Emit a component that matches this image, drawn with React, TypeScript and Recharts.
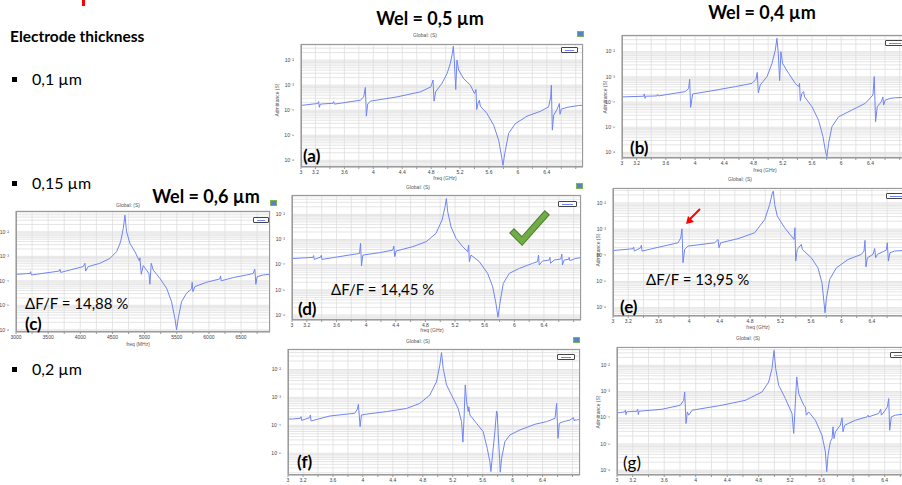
import React from 'react'
import { LineChart, Line, XAxis, YAxis, CartesianGrid } from 'recharts'

// admittance sweeps, one pair of arrays per plot
const A_FREQ = [3.0, 3.23, 3.244, 3.254, 3.267, 3.443, 3.452, 3.461, 3.82, 3.867, 3.89, 3.904, 3.922, 3.959, 4.328, 4.65, 4.798, 4.826, 4.84, 4.862, 4.95, 5.02, 5.065, 5.093, 5.107, 5.12, 5.14, 5.157, 5.18, 5.25, 5.342, 5.4, 5.42, 5.43, 5.448, 5.467, 5.48, 5.572, 5.665, 5.734, 5.775, 5.794, 5.817, 5.872, 5.964, 6.126, 6.31, 6.425, 6.453, 6.462, 6.476, 6.494, 6.54, 6.573, 6.582, 6.6, 6.68, 6.84, 6.9]
const A_ADM = [1.55e-4, 1.85e-4, 2.2e-4, 1.3e-4, 1.75e-4, 1.9e-4, 2.2e-4, 1.75e-4, 2.5e-4, 3.4e-4, 8.1e-4, 5.8e-5, 1.75e-4, 2.3e-4, 3.4e-4, 5.4e-4, 8.6e-4, 1.6e-3, 2.3e-4, 5.4e-4, 1.2e-3, 2.9e-3, 7.4e-3, 1.85e-2, 3.6e-2, 1e-2, 6.7e-4, 1e-2, 4e-3, 1.8e-3, 1e-3, 4.6e-4, 6.7e-4, 1.06e-4, 1.85e-4, 2.5e-4, 1.45e-4, 7.4e-5, 2.5e-5, 6.3e-6, 1.36e-6, 6.3e-7, 1.8e-6, 1.2e-5, 2.9e-5, 5.8e-5, 9e-5, 1.36e-4, 3.4e-4, 1e-3, 1.6e-5, 6.3e-5, 1.06e-4, 1.85e-4, 6.9e-5, 1.1e-4, 1.3e-4, 1.55e-4, 1.57e-4]

const B_FREQ = [3.0, 3.296, 3.306, 3.315, 3.325, 3.479, 3.488, 3.497, 3.866, 3.912, 3.926, 3.939, 3.967, 4.231, 4.55, 4.778, 4.833, 4.851, 4.865, 4.892, 4.984, 5.052, 5.098, 5.12, 5.139, 5.157, 5.175, 5.198, 5.28, 5.371, 5.417, 5.43, 5.44, 5.462, 5.485, 5.499, 5.6, 5.69, 5.75, 5.79, 5.804, 5.827, 5.873, 5.964, 6.146, 6.329, 6.434, 6.452, 6.47, 6.493, 6.548, 6.57, 6.58, 6.602, 6.67, 6.74, 6.9]
const B_ADM = [1.6e-4, 1.7e-4, 2.1e-4, 1.4e-4, 1.7e-4, 1.75e-4, 2.0e-4, 1.75e-4, 2.6e-4, 3.5e-4, 8e-4, 6.1e-5, 2.1e-4, 2.8e-4, 4.1e-4, 5.5e-4, 8e-4, 1.5e-3, 2.3e-4, 4.8e-4, 1.02e-3, 3.4e-3, 1.16e-2, 3.4e-2, 8.6e-3, 7.1e-4, 1e-2, 3.4e-3, 1.38e-3, 5.5e-4, 4.1e-4, 5.5e-4, 1.13e-4, 2.2e-4, 2.6e-4, 1.6e-4, 6.5e-5, 1.9e-5, 4.2e-6, 9.1e-7, 6.8e-7, 2.3e-6, 1.05e-5, 2.6e-5, 4.8e-5, 8.9e-5, 1.9e-4, 1.02e-3, 1.65e-5, 6.5e-5, 1.02e-4, 1.6e-4, 7.6e-5, 1.2e-4, 1.4e-4, 1.48e-4, 1.55e-4]

const C_FREQ = [3000, 3218, 3228, 3239, 3673, 3684, 3694, 4046, 4072, 4083, 4124, 4305, 4461, 4564, 4627, 4668, 4694, 4720, 4772, 4849, 4917, 4927, 4948, 4979, 5067, 5082, 5103, 5134, 5238, 5341, 5419, 5471, 5497, 5523, 5574, 5652, 5730, 5740, 5751, 5782, 5963, 6170, 6181, 6191, 6377, 6585, 6688, 6714, 6730, 6750, 6844, 6937]
const C_ADM = [1.84e-4, 2.0e-4, 2.36e-4, 1.73e-4, 2.5e-4, 3.0e-4, 2.2e-4, 3.8e-4, 5.2e-4, 2.5e-4, 3.8e-4, 5.2e-4, 8.2e-4, 1.55e-3, 3.9e-3, 1.37e-2, 4.8e-2, 1e-2, 3.35e-3, 1.55e-3, 6.6e-4, 8.7e-4, 1.84e-4, 4.2e-4, 2e-4, 7.2e-5, 5.2e-4, 2.75e-4, 1.26e-4, 5e-5, 1.4e-5, 2.9e-6, 1e-6, 2.9e-6, 1.4e-5, 3.1e-5, 4.7e-5, 8.7e-5, 3.6e-5, 5.8e-5, 8.7e-5, 1.19e-4, 1.58e-4, 1e-4, 1.35e-4, 1.73e-4, 2e-4, 3e-4, 7.2e-5, 1.48e-4, 1.73e-4, 1.84e-4]

const D_FREQ = [3.0, 3.283, 3.292, 3.301, 3.386, 3.395, 3.404, 3.911, 3.925, 3.938, 3.956, 4.181, 4.36, 4.374, 4.387, 4.405, 4.63, 4.81, 4.944, 5.025, 5.065, 5.083, 5.101, 5.146, 5.214, 5.303, 5.371, 5.384, 5.393, 5.416, 5.528, 5.64, 5.708, 5.752, 5.779, 5.806, 5.851, 5.932, 6.067, 6.246, 6.314, 6.327, 6.336, 6.381, 6.471, 6.48, 6.489, 6.538, 6.628, 6.641, 6.65, 6.673, 6.731, 6.74, 6.749, 6.83, 6.9]
const D_ADM = [1.75e-4, 1.95e-4, 2.3e-4, 1.62e-4, 2.0e-4, 2.35e-4, 1.62e-4, 2.8e-4, 7.1e-4, 8.9e-5, 2.4e-4, 3.0e-4, 3.8e-4, 5.5e-4, 2.1e-4, 3.5e-4, 5.2e-4, 8.2e-4, 1.76e-3, 6e-3, 2e-2, 4.3e-2, 1.28e-2, 3.2e-3, 1.11e-3, 5.2e-4, 3.3e-4, 6e-4, 1.32e-4, 2.4e-4, 1.32e-4, 4.5e-5, 1.34e-5, 2.9e-6, 8.1e-7, 2.9e-6, 1.8e-5, 4.5e-5, 7.1e-5, 1.13e-4, 1.32e-4, 2.4e-4, 9.7e-5, 1.4e-4, 1.53e-4, 1.95e-4, 1.13e-4, 1.53e-4, 1.68e-4, 2.65e-4, 9.7e-5, 1.53e-4, 1.62e-4, 1.95e-4, 1.45e-4, 1.78e-4, 1.9e-4]

const E_FREQ = [3.0, 3.263, 3.271, 3.28, 3.363, 3.372, 3.381, 3.854, 3.889, 3.906, 3.919, 3.941, 3.985, 4.335, 4.379, 4.392, 4.414, 4.641, 4.86, 4.992, 5.057, 5.092, 5.105, 5.123, 5.158, 5.254, 5.342, 5.377, 5.39, 5.399, 5.42, 5.473, 5.486, 5.604, 5.692, 5.744, 5.771, 5.784, 5.801, 5.845, 5.933, 6.086, 6.261, 6.296, 6.309, 6.322, 6.34, 6.414, 6.436, 6.449, 6.471, 6.589, 6.602, 6.616, 6.637, 6.699, 6.9]
const E_ADM = [1.52e-4, 1.77e-4, 2.04e-4, 1.45e-4, 1.93e-4, 2.4e-4, 1.45e-4, 3e-4, 4.6e-4, 1.02e-3, 5.2e-5, 1.67e-4, 2.24e-4, 3e-4, 4e-4, 1.93e-4, 3e-4, 4.3e-4, 7.2e-4, 2.3e-3, 8.6e-3, 2.4e-2, 2.8e-2, 8.6e-3, 3.1e-3, 1.12e-3, 5.4e-4, 4e-4, 1.12e-3, 6e-5, 1.67e-4, 2.6e-4, 1.67e-4, 8e-5, 3.3e-5, 8.9e-6, 1.55e-6, 6.4e-7, 2.1e-6, 1.2e-5, 3.3e-5, 6.9e-5, 1.08e-4, 1.45e-4, 3.7e-4, 3.6e-5, 8e-5, 1.08e-4, 1.82e-4, 8e-5, 1.08e-4, 1.58e-4, 3e-4, 6e-5, 1.25e-4, 1.45e-4, 1.58e-4]

const F_FREQ = [3.0, 3.058, 3.165, 3.174, 3.183, 3.29, 3.299, 3.308, 3.557, 3.891, 3.927, 3.94, 3.963, 3.981, 4.047, 4.315, 4.582, 4.76, 4.894, 4.983, 5.028, 5.05, 5.073, 5.117, 5.206, 5.273, 5.318, 5.336, 5.353, 5.367, 5.385, 5.407, 5.416, 5.429, 5.518, 5.607, 5.661, 5.696, 5.71, 5.732, 5.763, 5.786, 5.795, 5.808, 5.826, 5.835, 5.853, 5.897, 5.964, 6.098, 6.298, 6.454, 6.566, 6.588, 6.606, 6.624, 6.677, 6.766, 6.811, 6.824, 6.833, 6.855, 6.9]
const F_ADM = [1.68e-4, 1.68e-4, 1.78e-4, 2.04e-4, 1.5e-4, 1.88e-4, 2.34e-4, 1.43e-4, 2.15e-4, 2.7e-4, 3.8e-4, 5.6e-4, 9e-5, 2.34e-4, 2.5e-4, 3.1e-4, 4.0e-4, 6.1e-4, 1.21e-3, 3.6e-3, 1.43e-2, 4.0e-2, 1.09e-2, 2.8e-3, 9.2e-4, 4.0e-4, 1.35e-4, 2.5e-5, 2.34e-4, 2.8e-3, 7e-4, 3.1e-4, 4.6e-4, 2.34e-4, 1.18e-4, 5.9e-5, 1.5e-5, 5e-6, 2.2e-6, 8.7e-6, 5.9e-5, 3.25e-4, 2.7e-4, 4.5e-5, 6.6e-6, 2.1e-6, 6.6e-6, 2.6e-5, 4.5e-5, 6.8e-5, 1.09e-4, 1.35e-4, 1.78e-4, 6.1e-4, 3.4e-5, 1.18e-4, 1.35e-4, 1.55e-4, 1.88e-4, 1.43e-4, 1.55e-4, 1.55e-4, 1.62e-4]

const G_FREQ = [3.0, 3.042, 3.097, 3.106, 3.114, 3.123, 3.254, 3.263, 3.271, 3.28, 3.572, 3.805, 3.847, 3.86, 3.877, 3.894, 3.911, 3.953, 4.334, 4.63, 4.842, 4.927, 4.969, 4.995, 5.016, 5.054, 5.139, 5.223, 5.245, 5.266, 5.283, 5.308, 5.372, 5.393, 5.405, 5.435, 5.52, 5.604, 5.647, 5.664, 5.681, 5.71, 5.732, 5.744, 5.757, 5.774, 5.837, 5.859, 5.871, 5.893, 6.028, 6.176, 6.189, 6.197, 6.324, 6.35, 6.358, 6.392, 6.435, 6.452, 6.464, 6.485, 6.536, 6.7]
const G_ADM = [1.53e-4, 1.57e-4, 1.67e-4, 1.93e-4, 1.32e-4, 1.67e-4, 1.77e-4, 2.1e-4, 1.32e-4, 1.77e-4, 2.1e-4, 3e-4, 4.6e-4, 9.6e-4, 6e-5, 1.67e-4, 1.25e-4, 1.93e-4, 3e-4, 4.6e-4, 9.6e-4, 2.3e-3, 7.5e-3, 3.7e-2, 7.5e-3, 1.73e-3, 5.4e-4, 1.45e-4, 2.5e-5, 4e-4, 3.6e-3, 8.3e-4, 3e-4, 2.6e-4, 1.25e-4, 1.67e-4, 8e-5, 2.15e-5, 5e-6, 8.7e-7, 3.7e-6, 1.2e-5, 1.6e-5, 4.5e-5, 1.6e-5, 2.9e-5, 5.2e-5, 9.9e-5, 2.9e-5, 5.2e-5, 8e-5, 1.08e-4, 1.25e-4, 1.08e-4, 1.45e-4, 2.1e-4, 1.25e-4, 1.67e-4, 2.6e-4, 5.4e-4, 3.3e-5, 1.08e-4, 1.25e-4, 1.45e-4]

// axis ticks
const GHZ_TICKS = [3, 3.2, 3.4, 3.6, 3.8, 4, 4.2, 4.4, 4.6, 4.8, 5, 5.2, 5.4, 5.6, 5.8, 6, 6.2, 6.4, 6.6, 6.8]
const GHZ_LABELS = ['3', '3.2', '', '3.6', '', '4', '', '4.4', '', '4.8', '', '5.2', '', '5.6', '', '6', '', '6.4', '', '']
const MHZ_TICKS = [3000, 3250, 3500, 3750, 4000, 4250, 4500, 4750, 5000, 5250, 5500, 5750, 6000, 6250, 6500, 6750]
const MHZ_LABELS = ['3000', '', '3500', '', '4000', '', '4500', '', '5000', '', '5500', '', '6000', '', '6500', '']
const DECADES = [1e-7, 1e-6, 1e-5, 1e-4, 1e-3, 1e-2, 1e-1]
const MINOR = [1, 2, 3, 4, 5, 6, 7, 8, 9]

const LINE = '#7085f3'
const SLIDE_FONT = 'Lato, "Open Sans", sans-serif'
const PLOT_FONT = '"Liberation Sans", Arial, sans-serif'

const SUP: Record<string, string> = { '-': '⁻', '0': '⁰', '1': '¹', '2': '²', '3': '³', '4': '⁴', '5': '⁵', '6': '⁶', '7': '⁷', '8': '⁸', '9': '⁹' }
const powLabel = (v: number) => {
  const e = Math.log10(v)
  const r = Math.round(e)
  if (Math.abs(e - r) > 1e-6) return ''
  return '10' + String(r).split('').map((c) => SUP[c]).join('')
}

type PanelProps = {
  x: number
  y: number
  w: number
  h: number
  freq: number[]
  adm: number[]
  xDomain: [number, number]
  xTicks: number[]
  xLabels: string[]
  yDomain: [number, number]
}

const ML = 22
const MT = 2
const MR = 2
const MB = 12

const Panel = ({ x, y, w, h, freq, adm, xDomain, xTicks, xLabels, yDomain }: PanelProps) => {
  const data = freq.map((f, i) => ({ f, y: adm[i] }))
  const yTicks = DECADES.flatMap((d) => MINOR.map((m) => m * d)).filter((v) => v >= yDomain[0] && v <= yDomain[1])
  return (
    <div style={{ position: 'absolute', left: x - ML, top: y - MT }}>
      <LineChart width={w + ML + MR} height={h + MT + MB} data={data} margin={{ top: MT, right: MR, bottom: 0, left: 0 }}>
        <CartesianGrid stroke="#dedede" strokeWidth={0.8} />
        <XAxis
          type="number"
          dataKey="f"
          domain={xDomain}
          ticks={xTicks}
          interval={0}
          allowDataOverflow
          height={MB}
          tickSize={2}
          tickMargin={1}
          axisLine={{ stroke: '#999' }}
          tickLine={{ stroke: '#999' }}
          tick={{ fontSize: 5, fill: '#444', fontFamily: PLOT_FONT }}
          tickFormatter={(v: number) => {
            const i = xTicks.indexOf(v)
            return i >= 0 ? xLabels[i] : ''
          }}
        />
        <YAxis
          type="number"
          scale="log"
          domain={yDomain}
          ticks={yTicks}
          interval={0}
          allowDataOverflow
          width={ML}
          tickLine={false}
          tickMargin={1}
          axisLine={{ stroke: '#999' }}
          tick={{ fontSize: 5, fill: '#444', fontFamily: PLOT_FONT }}
          tickFormatter={powLabel}
        />
        <Line type="linear" dataKey="y" stroke={LINE} strokeWidth={1} dot={false} isAnimationActive={false} />
      </LineChart>
      <div style={{ position: 'absolute', left: ML, top: MT, width: w, height: h, border: '1px solid #9a9a9a', boxSizing: 'border-box', pointerEvents: 'none' }} />
    </div>
  )
}

type LabelProps = {
  x: number
  y: number
  size: number
  bold?: boolean
  center?: boolean
  color?: string
  font?: string
  rotate?: boolean
  children: React.ReactNode
}

const Label = ({ x, y, size, bold, center, color = '#000', font = SLIDE_FONT, rotate, children }: LabelProps) => (
  <div
    style={{
      position: 'absolute',
      left: x,
      top: y,
      transform: rotate ? 'translate(-50%, -50%) rotate(-90deg)' : center ? 'translate(-50%, -50%)' : 'translate(0, -50%)',
      fontFamily: font,
      fontSize: size,
      fontWeight: bold ? 700 : 400,
      color,
      lineHeight: 1,
      whiteSpace: 'nowrap',
    }}
  >
    {children}
  </div>
)

const LegendBox = ({ x, y, w, h }: { x: number; y: number; w: number; h: number }) => (
  <div style={{ position: 'absolute', left: x, top: y, width: w, height: h, border: '1px solid #444', borderRadius: 1, background: '#fff', boxSizing: 'border-box' }}>
    <div style={{ position: 'absolute', left: 3, right: 3, top: '50%', height: 1, background: LINE }} />
  </div>
)

const Icon = ({ x, y }: { x: number; y: number }) => (
  <div style={{ position: 'absolute', left: x, top: y, width: 5, height: 4, background: '#4f86c6', border: '0.5px solid #7fb35a' }} />
)

const Bullet = ({ y, text }: { y: number; text: string }) => (
  <>
    <div style={{ position: 'absolute', left: 12, top: y - 2.5, width: 4.5, height: 5, background: '#000' }} />
    <Label x={32} y={y} size={16}>{text}</Label>
  </>
)

const plotTitle = (x: number, y: number) => (
  <Label x={x} y={y} size={5} center color="#555" font={PLOT_FONT}>Global: (S)</Label>
)

const App = () => (
  <div style={{ position: 'fixed', left: 0, top: 0, width: 902, height: 485, overflow: 'hidden', background: '#fff' }}>
    <Panel x={301} y={44} w={282} h={123} freq={A_FREQ} adm={A_ADM} xDomain={[3, 6.9]} xTicks={GHZ_TICKS} xLabels={GHZ_LABELS} yDomain={[5.4e-7, 4.4e-2]} />
    <Panel x={622} y={35} w={285} h={123} freq={B_FREQ} adm={B_ADM} xDomain={[3, 6.9]} xTicks={GHZ_TICKS} xLabels={GHZ_LABELS} yDomain={[6.0e-7, 4.6e-2]} />
    <Panel x={16} y={211} w={254} h={121} freq={C_FREQ} adm={C_ADM} xDomain={[3000, 6950]} xTicks={MHZ_TICKS} xLabels={MHZ_LABELS} yDomain={[8.1e-7, 7.1e-2]} />
    <Panel x={292} y={195} w={289} h={125} freq={D_FREQ} adm={D_ADM} xDomain={[3, 6.9]} xTicks={GHZ_TICKS} xLabels={GHZ_LABELS} yDomain={[6.3e-7, 5.9e-2]} />
    <Panel x={613} y={188} w={297} h={128} freq={E_FREQ} adm={E_ADM} xDomain={[3, 6.9]} xTicks={GHZ_TICKS} xLabels={GHZ_LABELS} yDomain={[4.8e-7, 3.7e-2]} />
    <Panel x={288} y={349} w={292} h={126} freq={F_FREQ} adm={F_ADM} xDomain={[3, 6.9]} xTicks={GHZ_TICKS} xLabels={GHZ_LABELS} yDomain={[1.66e-6, 5.4e-2]} />
    <Panel x={617} y={347} w={307} h={128} freq={G_FREQ} adm={G_ADM} xDomain={[3, 6.9]} xTicks={GHZ_TICKS} xLabels={GHZ_LABELS} yDomain={[6.5e-7, 5e-2]} />

    {plotTitle(425, 35)}
    {plotTitle(128, 205)}
    {plotTitle(418, 187)}
    {plotTitle(740, 179)}
    {plotTitle(418, 341)}
    {plotTitle(748, 338)}

    <Label x={445} y={178} size={5} center color="#555" font={PLOT_FONT}>freq (GHz)</Label>
    <Label x={765} y={170} size={5} center color="#555" font={PLOT_FONT}>freq (GHz)</Label>
    <Label x={138} y={344} size={5} center color="#555" font={PLOT_FONT}>freq (MHz)</Label>
    <Label x={432} y={330} size={5} center color="#555" font={PLOT_FONT}>freq (GHz)</Label>
    <Label x={758} y={327} size={5} center color="#555" font={PLOT_FONT}>freq (GHz)</Label>

    <Label x={277} y={100} size={5} rotate color="#555" font={PLOT_FONT}>Admittance (S)</Label>
    <Label x={605} y={97} size={5} rotate color="#555" font={PLOT_FONT}>Admittance (S)</Label>
    <Label x={598} y={250} size={5} rotate color="#555" font={PLOT_FONT}>Admittance (S)</Label>
    <Label x={598} y={412} size={5} rotate color="#555" font={PLOT_FONT}>Admittance (S)</Label>

    <LegendBox x={561} y={47} w={17} h={6} />
    <LegendBox x={885} y={40} w={20} h={6} />
    <LegendBox x={253} y={217} w={16} h={6} />
    <LegendBox x={558} y={201} w={19} h={6} />
    <LegendBox x={886} y={193} w={20} h={6} />
    <LegendBox x={557} y={354} w={18} h={6} />
    <LegendBox x={890} y={352} w={20} h={6} />

    <Icon x={577} y={31} />
    <Icon x={270} y={200} />
    <Icon x={576} y={183} />
    <Icon x={573} y={337} />

    <div style={{ position: 'absolute', left: 82, top: 0, width: 3, height: 6, background: '#ff0000' }} />
    <Label x={10} y={37} size={15.5} bold>Electrode thickness</Label>
    <Bullet y={79} text="0,1 µm" />
    <Bullet y={183} text="0,15 µm" />
    <Bullet y={369} text="0,2 µm" />

    <Label x={430} y={18} size={18} bold center>Wel = 0,5 µm</Label>
    <Label x={762} y={12} size={18} bold center>Wel = 0,4 µm</Label>
    <Label x={206} y={196} size={18} bold center>Wel = 0,6 µm</Label>

    <Label x={25} y={303} size={15} >ΔF/F = 14,88 %</Label>
    <Label x={331} y={289} size={15}>ΔF/F = 14,45 %</Label>
    <Label x={646} y={279} size={15}>ΔF/F = 13,95 %</Label>

    <Label x={303} y={155} size={17} bold>(a)</Label>
    <Label x={630} y={147} size={17} bold>(b)</Label>
    <Label x={25} y={323} size={17} bold>(c)</Label>
    <Label x={298} y={308} size={17} bold>(d)</Label>
    <Label x={620} y={306} size={17} bold>(e)</Label>
    <Label x={297} y={461} size={17} bold>(f)</Label>
    <Label x={623} y={462} size={17}>(g)</Label>

    <svg width={902} height={485} style={{ position: 'absolute', left: 0, top: 0, pointerEvents: 'none' }}>
      <polyline points="514,233 522,241 545,215" fill="none" stroke="#4e7a2e" strokeWidth={7} strokeLinecap="square" />
      <polyline points="514,233 522,241 545,215" fill="none" stroke="#70ad47" strokeWidth={5} strokeLinecap="square" />
      <line x1={700} y1={209} x2={690} y2={219} stroke="#ff0000" strokeWidth={2} />
      <polygon points="686,224 688,216 694,222" fill="#ff0000" />
    </svg>
  </div>
)

export default App
